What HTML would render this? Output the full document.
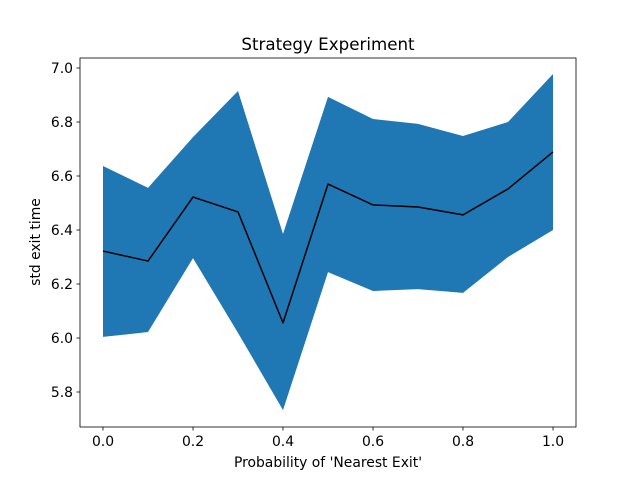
<!DOCTYPE html>
<html><head><meta charset="utf-8"><style>
body{margin:0;background:#fff;}
svg text{font-family:"DejaVu Sans","Liberation Sans",sans-serif;fill:#000;}
</style></head><body>
<svg id="chart" width="640" height="480">
<rect width="640" height="480" fill="#fff"/>
<g id="plot"></g>
</svg>
<script>
const xs = [0,0.1,0.2,0.3,0.4,0.5,0.6,0.7,0.8,0.9,1.0];
const meanVals = [6.322,6.285,6.522,6.467,6.056,6.570,6.493,6.485,6.456,6.552,6.689];
const upperVals = [6.637,6.556,6.744,6.915,6.385,6.893,6.811,6.793,6.748,6.800,6.978];
const lowerVals = [6.004,6.022,6.296,6.019,5.733,6.244,6.174,6.181,6.167,6.300,6.400];
const xTicks = [0,0.2,0.4,0.6,0.8,1.0];
const xTickLabels = ["0.0","0.2","0.4","0.6","0.8","1.0"];
const yTicks = [5.8,6.0,6.2,6.4,6.6,6.8,7.0];
const yTickLabels = ["5.8","6.0","6.2","6.4","6.6","6.8","7.0"];

const L=80,R=576,T=58,B=427;
const sx=v=>103+v*450;
const sy=v=>68+(7.0-v)*270;
const NS="http://www.w3.org/2000/svg";
const g=document.getElementById('plot');
function mk(tag,attrs){const e=document.createElementNS(NS,tag);for(const k in attrs)e.setAttribute(k,attrs[k]);g.appendChild(e);return e;}

let pts=xs.map((x,i)=>sx(x)+","+sy(upperVals[i]));
for(let i=xs.length-1;i>=0;i--)pts.push(sx(xs[i])+","+sy(lowerVals[i]));
const band=mk('polygon',{points:pts.join(" "),fill:"#1f77b4"});



const line=mk('polyline',{points:xs.map((x,i)=>sx(x)+","+sy(meanVals[i])).join(" "),fill:"none",stroke:"#000","stroke-width":1.5,"stroke-linejoin":"round"});



const frame=mk('rect',{x:L,y:T,width:R-L,height:B-T,fill:"none",stroke:"#000","stroke-width":0.8});



xTicks.forEach((v,i)=>{
  const x=sx(v);
  const t=mk('line',{x1:x,x2:x,y1:B,y2:B+3.5,stroke:"#000","stroke-width":0.8});
  
  
  const l=mk('text',{x:x,y:B+19,"text-anchor":"middle","font-size":13.9});
  l.textContent=xTickLabels[i];
  
  
});
yTicks.forEach((v,i)=>{
  const y=sy(v);
  const t=mk('line',{x1:L-3.5,x2:L,y1:y,y2:y,stroke:"#000","stroke-width":0.8});
  
  
  const l=mk('text',{x:L-7,y:y+5,"text-anchor":"end","font-size":13.9});
  l.textContent=yTickLabels[i];
  
  
});
const title=mk('text',{x:328,y:50,"text-anchor":"middle","font-size":16.7});
title.textContent="Strategy Experiment";


const xl=mk('text',{x:328,y:467,"text-anchor":"middle","font-size":13.9});
xl.textContent="Probability of 'Nearest Exit'";


const yl=mk('text',{x:0,y:0,"text-anchor":"middle","font-size":13.9,transform:"translate(40,242) rotate(-90)"});
yl.textContent="std exit time";


</script>
</body></html>
